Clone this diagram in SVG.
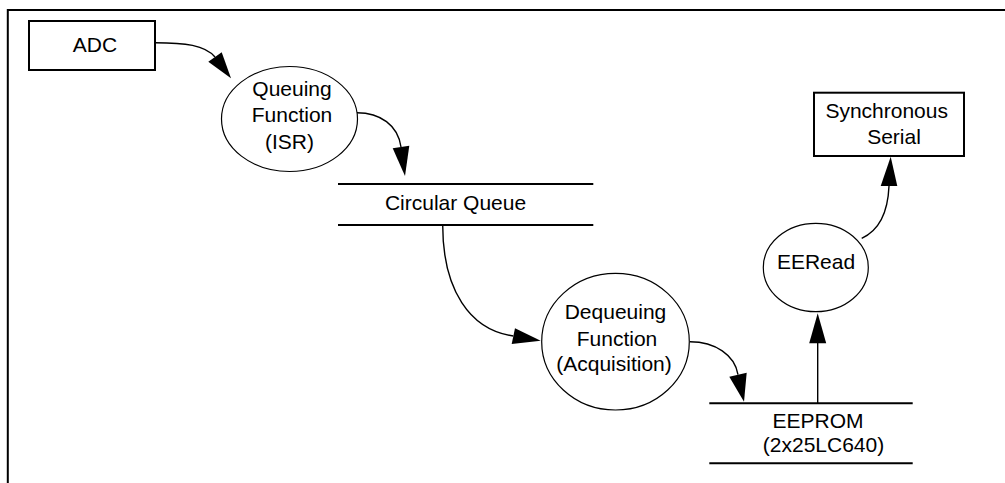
<svg xmlns="http://www.w3.org/2000/svg" width="1005" height="483" viewBox="0 0 1005 483">
<style>
text{font-family:"Liberation Sans",Arial,sans-serif;font-size:21px;fill:#000;text-anchor:middle}
.box{fill:#fff;stroke:#000;stroke-width:2}
.proc{fill:#fff;stroke:#000;stroke-width:1.2}
.store{stroke:#000;stroke-width:2;fill:none}
.flow{fill:none;stroke:#000;stroke-width:1.4}
.head{fill:#000;stroke:none}
</style>
<rect width="1005" height="483" fill="#fff"/>
<g id="frame">
<path d="M7.8,483 V10 H1005" fill="none" stroke="#000" stroke-width="2"/>
</g>
<g id="connectors">
<path class="flow" d="M155,42.7 C185,42.7 205,45 215,57"/>
<polygon class="head" points="208.3,61.7 221.7,52.3 231,78.3"/>
<path class="flow" d="M357,112.7 C380,112.7 398,125 401,147"/>
<polygon class="head" points="392.7,148.3 409.3,145.7 405,176"/>
<path class="flow" d="M442.7,225 C442.7,290 470,330 513.3,336"/>
<polygon class="head" points="515,328.3 511.7,344 540.7,340.7"/>
<path class="flow" d="M690,341.7 C715,341.7 735,355 738,374.7"/>
<polygon class="head" points="729.3,376.7 746.7,372.7 744,401.7"/>
<path class="flow" d="M817.7,403 V343" stroke-width="2"/>
<polygon class="head" points="809.2,343.3 826.2,343.3 817.7,313.3"/>
<path class="flow" d="M861.7,238.3 C880,230 888,210 889,186"/>
<polygon class="head" points="880.7,186 897.3,186 890.7,156.7"/>
</g>
<g id="adc">
<rect class="box" x="29" y="21" width="126" height="49"/>
<text x="95" y="52">ADC</text>
</g>
<g id="queuing">
<ellipse class="proc" cx="289.5" cy="119" rx="68" ry="52.5"/>
<text x="292" y="96">Queuing</text>
<text x="292" y="122">Function</text>
<text x="289.5" y="148.6">(ISR)</text>
</g>
<g id="circular-queue">
<line class="store" x1="338" y1="184" x2="593.3" y2="184"/>
<line class="store" x1="338" y1="225" x2="593.3" y2="225"/>
<text x="455.5" y="210">Circular Queue</text>
</g>
<g id="dequeuing">
<ellipse class="proc" cx="615.5" cy="341.7" rx="73.8" ry="68.3"/>
<text x="615.5" y="319.3">Dequeuing</text>
<text x="617" y="346">Function</text>
<text x="614" y="371">(Acquisition)</text>
</g>
<g id="eeprom">
<line class="store" x1="709.3" y1="403.3" x2="912.7" y2="403.3"/>
<line class="store" x1="709.3" y1="463.3" x2="912.7" y2="463.3"/>
<text x="818" y="428.3">EEPROM</text>
<text x="823.5" y="451.7">(2x25LC640)</text>
</g>
<g id="eeread">
<ellipse class="proc" cx="815.8" cy="267.5" rx="52.5" ry="44.2"/>
<text x="816" y="269.3">EERead</text>
</g>
<g id="sync-serial">
<rect class="box" x="814" y="92.7" width="150" height="63.3"/>
<text x="886.7" y="118.3">Synchronous</text>
<text x="894" y="144">Serial</text>
</g>
</svg>
